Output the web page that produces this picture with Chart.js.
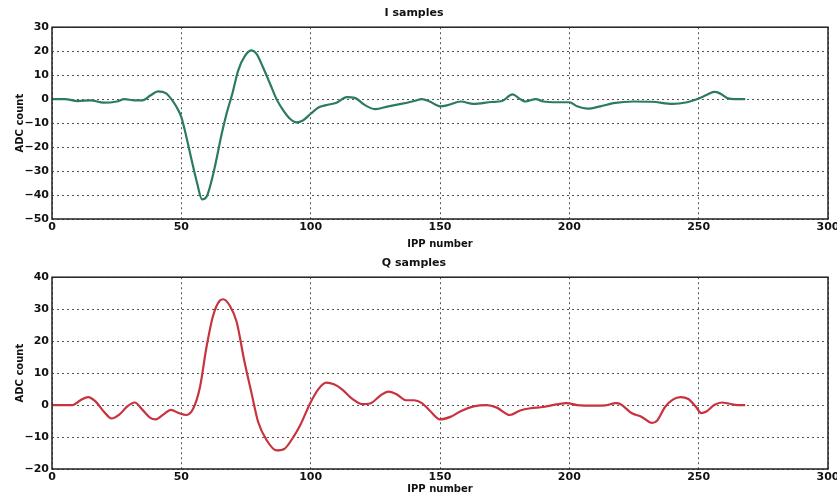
<!DOCTYPE html>
<html>
<head>
<meta charset="utf-8">
<script src="https://cdn.jsdelivr.net/npm/chart.js@4.4.1/dist/chart.umd.min.js"></script>
<style>
    html, body { margin: 0; padding: 0; background: #fff; }
    .box { position: relative; width: 837px; }
    canvas { display: block; }
</style>
</head>
<body>
<div class="box" style="height:250px"><canvas id="iChart" width="837" height="250"></canvas></div>
<div class="box" style="height:245px"><canvas id="qChart" width="837" height="245"></canvas></div>
<script>
// IPP numbers and ADC counts
const iIpp = [0, 5, 10, 15, 20, 25, 28, 32, 35, 38, 41, 44, 46, 48, 50, 52, 54, 56, 58, 59.7, 61.7, 63.6, 65.5, 67.5, 69.7, 72, 74.6, 77.2, 79, 81.7, 84.3, 86.8, 89.4, 92, 94.6, 97, 100, 103, 106, 110, 114, 117, 121, 125, 130, 135, 140, 143, 146, 150, 153, 158, 163, 170, 174, 178, 181, 183, 187, 190, 195, 200, 203, 207, 212, 217, 225, 232, 240, 245, 250, 253, 256, 258, 261, 264, 268];
const iValues = [0, 0, -0.8, -0.5, -1.5, -1, 0, -0.5, -0.5, 1.5, 3.2, 2.5, 0.2, -3, -7.5, -16, -25.5, -34.6, -41.8, -40.8, -34, -25, -15, -6, 2.2, 12, 18, 20.3, 19, 13, 6.4, 0, -4.7, -8.2, -9.7, -8.9, -6.1, -3.5, -2.5, -1.5, 0.8, 0.5, -2.5, -4.2, -3, -2, -0.8, 0, -1, -3, -2.5, -1, -2, -1.2, -0.8, 2, 0, -1, 0, -1, -1.3, -1.3, -3, -4, -3, -1.7, -1, -1.1, -2, -1.4, 0.3, 1.7, 3, 2.5, 0.5, 0, 0];

const qIpp = [0, 8, 11, 14, 17, 20, 23, 26, 29, 32, 35, 38, 40, 43, 46, 49, 52, 54.6, 57.2, 59.7, 62.3, 64.9, 66.2, 68.8, 71.4, 74.3, 77.2, 79.7, 83, 86.8, 90, 93.3, 95.9, 100, 103, 106, 109, 112, 116, 120, 123, 127, 130, 133, 137, 140, 143, 146, 150, 154, 158, 163, 168, 172, 177, 181, 185, 190, 195, 199, 203, 210, 214, 218, 220, 224, 228, 232, 234, 237, 240, 243, 246, 249, 251, 253, 256, 259, 262, 265, 268];
const qValues = [0, 0, 1.5, 2.5, 1, -2, -4.2, -3, -0.5, 0.8, -1.5, -4, -4.5, -3, -1.5, -2.5, -3.1, -1.1, 5.6, 18, 28, 32.7, 33.1, 31, 26, 14, 3.5, -5.3, -11, -14.2, -13.6, -10, -6.4, 0.9, 5, 7, 6.5, 5, 2, 0.3, 0.5, 3, 4.2, 3.5, 1.5, 1.5, 0.6, -1.7, -4.5, -3.7, -1.9, -0.4, 0, -0.8, -3.1, -1.7, -1, -0.6, 0.2, 0.6, 0, -0.2, -0.1, 0.6, 0.2, -2.5, -3.7, -5.6, -4.8, -0.6, 1.7, 2.5, 1.9, -0.6, -2.5, -2, 0, 0.8, 0.4, 0, 0];

const xTicks = [0, 50, 100, 150, 200, 250, 300];

const tickFont = { family: 'DejaVu Sans', size: 11, weight: 'bold' };
const labelFont = { family: 'DejaVu Sans', size: 10, weight: 'bold' };

// frame round the whole plot area, like the matplotlib axes box
const frame = {
    id: 'frame',
    afterDraw(chart) {
        const a = chart.chartArea;
        const ctx = chart.ctx;
        ctx.save();
        ctx.strokeStyle = '#222';
        ctx.lineWidth = 1.5;
        ctx.strokeRect(a.left, a.top, a.right - a.left, a.bottom - a.top);
        ctx.restore();
    }
};

function makeChart(id, title, xs, ys, color, yMin, yMax, xHeight) {
    const points = xs.map((x, i) => ({ x: x, y: ys[i] }));
    return new Chart(document.getElementById(id).getContext('2d'), {
        type: 'line',
        data: {
            datasets: [{
                label: title,
                data: points,
                borderColor: color,
                borderWidth: 2.2,
                pointRadius: 0,
                cubicInterpolationMode: 'monotone',
                fill: false
            }]
        },
        plugins: [frame],
        options: {
            responsive: false,
            animation: false,
            layout: { padding: { left: 0, right: 9, top: 0, bottom: 0 } },
            plugins: {
                legend: { display: false },
                tooltip: { enabled: false },
                title: {
                    display: true,
                    text: title,
                    color: '#111',
                    font: { family: 'DejaVu Sans', size: 11, weight: 'bold' },
                    padding: { top: 7, bottom: 7 }
                }
            },
            scales: {
                x: {
                    type: 'linear',
                    min: 0,
                    max: 300,
                    afterBuildTicks(scale) {
                        scale.ticks = xTicks.map(v => ({ value: v }));
                    },
                    afterFit(scale) {
                        scale.height = xHeight;
                        scale.paddingRight = 0;
                    },
                    grid: { color: '#555', drawTicks: false },
                    border: { display: false, dash: [2, 3] },
                    ticks: { color: '#111', font: tickFont, padding: 2, maxRotation: 0 },
                    title: { display: true, text: 'IPP number', color: '#111', font: labelFont, padding: 0 }
                },
                y: {
                    min: yMin,
                    max: yMax,
                    afterFit(scale) { scale.width = 52; },
                    grid: { color: '#555', drawTicks: false },
                    border: { display: false, dash: [2, 3] },
                    ticks: {
                        stepSize: 10,
                        color: '#111',
                        font: tickFont,
                        padding: 3,
                        callback: v => String(v).replace('-', '\u2212')
                    },
                    title: { display: true, text: 'ADC count', color: '#111', font: labelFont, padding: { top: 14, bottom: 0 } }
                }
            }
        }
    });
}

makeChart('iChart', 'I samples', iIpp, iValues, '#2b7b5f', -50, 30, 31);
makeChart('qChart', 'Q samples', qIpp, qValues, '#c9323f', -20, 40, 26);
</script>
</body>
</html>
